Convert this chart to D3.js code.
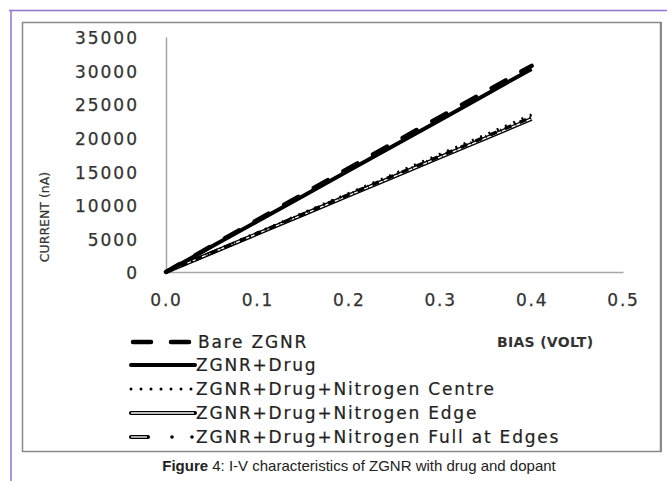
<!DOCTYPE html>
<html lang="en">
  <head>
    <meta charset="utf-8">
    <title>I-V characteristics of ZGNR</title>
    <script src="https://cdn.jsdelivr.net/npm/d3@7"></script>
    <style>
      body { margin: 0; background: #fff; }
      .tick text { font-family: "DejaVu Sans", sans-serif; fill: #333; }
    </style>
  </head>
  <body>
    <script>
      // Data (bias in volts, current in nA)
      var bias = [0.0, 0.05, 0.1, 0.15, 0.2, 0.25, 0.3, 0.35, 0.4];
      var bareZgnr = [0, 3900, 7750, 11600, 15450, 19300, 23100, 26900, 30700];
      var zgnrDrug = [0, 3780, 7550, 11330, 15100, 18880, 22650, 26450, 30250];
      var nitroCentre = [0, 2920, 5850, 8770, 11700, 14620, 17550, 20450, 23400];
      var nitroEdge = [0, 2850, 5700, 8550, 11400, 14250, 17100, 19950, 22800];
      var nitroFull = [0, 2880, 5760, 8640, 11520, 14400, 17280, 20150, 23050];

      var xTicks = [0.0, 0.1, 0.2, 0.3, 0.4, 0.5];
      var yTicks = [0, 5000, 10000, 15000, 20000, 25000, 30000, 35000];

      var seriesNames = ["Bare ZGNR", "ZGNR+Drug", "ZGNR+Drug+Nitrogen Centre",
                         "ZGNR+Drug+Nitrogen Edge", "ZGNR+Drug+Nitrogen Full at Edges"];

      var w = 667, h = 481;
      var svg = d3.select("body").append("svg")
        .attr("width", w)
        .attr("height", h);

      // page frame (purple rules)
      svg.append("line").attr("x1", 9).attr("x2", w).attr("y1", 10.5).attr("y2", 10.5)
        .attr("stroke", "#9274cf").attr("stroke-width", 1.5);
      svg.append("line").attr("x1", 11).attr("x2", 11).attr("y1", 10).attr("y2", h)
        .attr("stroke", "#9274cf").attr("stroke-width", 1.5);

      // chart box
      svg.append("rect").attr("x", 22.5).attr("y", 22.5).attr("width", 638).attr("height", 429)
        .attr("fill", "#fff").attr("stroke", "#8a8a8a").attr("stroke-width", 1.5);
      svg.append("line").attr("x1", 661).attr("x2", 661).attr("y1", 22).attr("y2", 452)
        .attr("stroke", "#8a8a8a").attr("stroke-width", 2);

      var xScale = d3.scaleLinear().domain([0, 0.5]).range([166, 623]);
      var yScale = d3.scaleLinear().domain([0, 35000]).range([272, 37]);

      var xAxis = d3.axisBottom(xScale).tickValues(xTicks).tickSize(0).tickPadding(22)
        .tickFormat(d3.format(".1f"));
      var yAxis = d3.axisLeft(yScale).tickValues(yTicks).tickSize(0).tickPadding(27)
        .tickFormat(d3.format("d"));

      var gx = svg.append("g").attr("transform", "translate(0," + yScale(0) + ")").call(xAxis);
      var gy = svg.append("g").attr("transform", "translate(" + xScale(0) + ",0)").call(yAxis);
      gx.select(".domain").attr("stroke", "#a6a6a6").attr("stroke-width", 1.5);
      gy.select(".domain").attr("stroke", "#a6a6a6").attr("stroke-width", 1.5);
      gx.selectAll(".tick text").attr("font-size", 17).attr("letter-spacing", 1.8)
        .attr("stroke", "#333").attr("stroke-width", 0.25);
      gy.selectAll(".tick text").attr("font-size", 17).attr("letter-spacing", 2)
        .attr("stroke", "#333").attr("stroke-width", 0.25)
        .attr("dy", "0.4em");

      // axis titles
      svg.append("text")
        .attr("transform", "translate(49,217) rotate(-90)")
        .attr("text-anchor", "middle")
        .attr("font-family", "DejaVu Sans, sans-serif")
        .attr("font-size", 12.5)
        .attr("fill", "#333")
        .attr("stroke", "#333").attr("stroke-width", 0.2)
        .text("CURRENT (nA)");

      svg.append("text")
        .attr("x", 497).attr("y", 347)
        .attr("font-family", "DejaVu Sans, sans-serif")
        .attr("font-size", 14)
        .attr("font-weight", "bold")
        .attr("letter-spacing", 0.3)
        .attr("fill", "#333")
        .text("BIAS (VOLT)");

      var line = d3.line()
        .x(function(d, i) { return xScale(bias[i]); })
        .y(function(d) { return yScale(d); });

      var plot = svg.append("g");

      // Nitrogen Edge: double line
      plot.append("path").datum(nitroEdge).attr("d", line)
        .attr("fill", "none").attr("stroke", "#000").attr("stroke-width", 4);
      plot.append("path").datum(nitroEdge).attr("d", line)
        .attr("fill", "none").attr("stroke", "#fff").attr("stroke-width", 1.3);

      // Nitrogen Full at Edges: double-line dash + dots
      plot.append("path").datum(nitroFull).attr("d", line)
        .attr("fill", "none").attr("stroke", "#000").attr("stroke-width", 3.5)
        .attr("stroke-dasharray", "7 4 1 4")
        .attr("stroke-linecap", "butt");

      // Nitrogen Centre: dotted
      plot.append("path").datum(nitroCentre).attr("d", line)
        .attr("fill", "none").attr("stroke", "#000").attr("stroke-width", 3)
        .attr("stroke-dasharray", "2 7")
        .attr("stroke-linecap", "butt");

      // ZGNR+Drug: solid
      plot.append("path").datum(zgnrDrug).attr("d", line)
        .attr("fill", "none").attr("stroke", "#000").attr("stroke-width", 4);

      // Bare ZGNR: long dash
      plot.append("path").datum(bareZgnr).attr("d", line)
        .attr("fill", "none").attr("stroke", "#000").attr("stroke-width", 4.5)
        .attr("stroke-dasharray", "16 18")
        .attr("stroke-linecap", "round");

      // legend
      var legY = [342, 365, 389, 413, 437];
      var leg = svg.append("g");
      var sx0 = 131, sx1 = 195;

      // Bare ZGNR
      leg.append("line").attr("x1", sx0).attr("x2", sx1).attr("y1", legY[0]).attr("y2", legY[0])
        .attr("stroke", "#000").attr("stroke-width", 4.5)
        .attr("stroke-dasharray", "18 20").attr("stroke-linecap", "round")
        .attr("transform", "translate(2,0)");
      // ZGNR+Drug
      leg.append("line").attr("x1", sx0).attr("x2", sx1).attr("y1", legY[1]).attr("y2", legY[1])
        .attr("stroke", "#000").attr("stroke-width", 4).attr("stroke-linecap", "round");
      // Nitrogen Centre
      leg.append("line").attr("x1", sx0).attr("x2", sx1).attr("y1", legY[2]).attr("y2", legY[2])
        .attr("stroke", "#000").attr("stroke-width", 3)
        .attr("stroke-dasharray", "0 10").attr("stroke-linecap", "round");
      // Nitrogen Edge
      leg.append("line").attr("x1", sx0).attr("x2", sx1).attr("y1", legY[3]).attr("y2", legY[3])
        .attr("stroke", "#000").attr("stroke-width", 4).attr("stroke-linecap", "round");
      leg.append("line").attr("x1", sx0).attr("x2", sx1 - 1).attr("y1", legY[3]).attr("y2", legY[3])
        .attr("stroke", "#fff").attr("stroke-width", 1.3);
      // Full at Edges
      leg.append("line").attr("x1", sx0).attr("x2", sx0 + 17).attr("y1", legY[4]).attr("y2", legY[4])
        .attr("stroke", "#000").attr("stroke-width", 4).attr("stroke-linecap", "round");
      leg.append("line").attr("x1", sx0).attr("x2", sx0 + 16).attr("y1", legY[4]).attr("y2", legY[4])
        .attr("stroke", "#fff").attr("stroke-width", 1.3);
      leg.selectAll("circle.fd").data([172, 192]).enter().append("circle")
        .attr("cx", function(d) { return d; }).attr("cy", legY[4]).attr("r", 1.8).attr("fill", "#000");

      leg.selectAll("text").data(seriesNames).enter().append("text")
        .attr("x", function(d, i) { return i === 0 ? 198 : 196; })
        .attr("y", function(d, i) { return legY[i] + 6; })
        .attr("font-family", "DejaVu Sans, sans-serif")
        .attr("font-size", 17)
        .attr("letter-spacing", 1.8)
        .attr("fill", "#222")
        .attr("stroke", "#222").attr("stroke-width", 0.2)
        .text(function(d) { return d; });

      // caption
      var cap = svg.append("text")
        .attr("x", 359).attr("y", 471)
        .attr("text-anchor", "middle")
        .attr("font-family", "Liberation Sans, Arial, sans-serif")
        .attr("font-size", 15)
        .attr("fill", "#222");
      cap.append("tspan").attr("font-weight", "bold").text("Figure");
      cap.append("tspan").text(" 4: I-V characteristics of ZGNR with drug and dopant");
    </script>
  </body>
</html>
